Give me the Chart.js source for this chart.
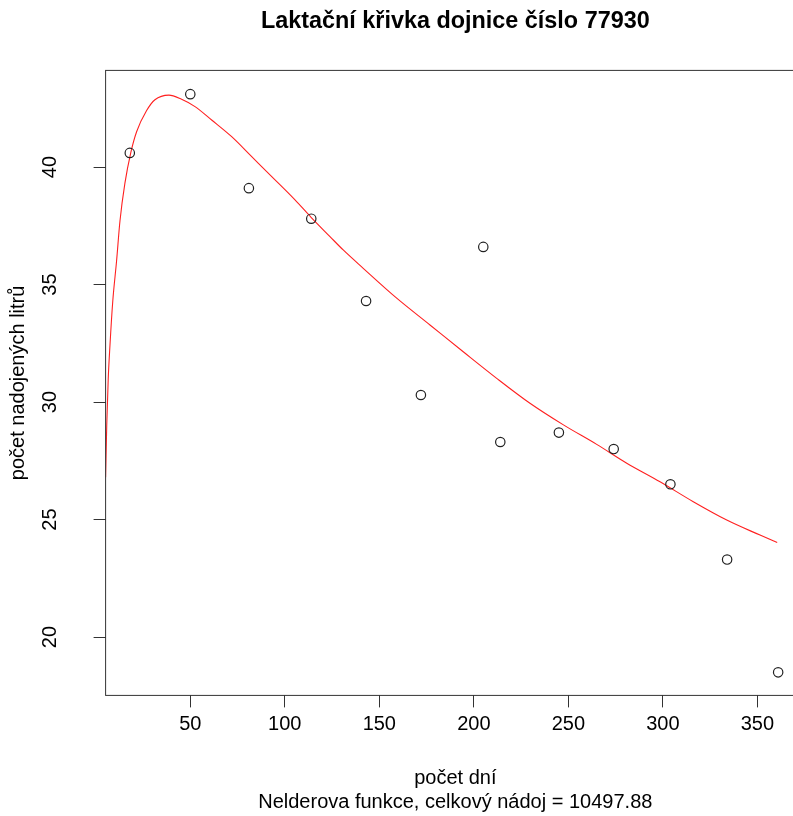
<!DOCTYPE html>
<html>
<head>
<meta charset="utf-8">
<script src="https://cdn.jsdelivr.net/npm/chart.js@4.4.1/dist/chart.umd.min.js"></script>
<style>
  html, body { margin: 0; padding: 0; background: #fff; overflow: hidden; }
  #wrap { width: 820px; height: 816px; }
</style>
</head>
<body>
<div id="wrap"><canvas id="graph" width="820" height="816"></canvas></div>
<script>
// measured milk yield (days in milk -> litres)
const days = [18, 50, 81, 114, 143, 172, 205, 214, 245, 274, 304, 334, 361];
const litres = [40.6, 43.1, 39.1, 37.8, 34.3, 30.3, 36.6, 28.3, 28.7, 28.0, 26.5, 23.3, 18.5];

// fitted curve
const curveDays = [5.2, 5.8, 6.6, 7.5, 9, 11, 12.8, 15.4, 18.5, 21.6, 26.9, 31.3, 38.7, 45.4, 52.5, 61.3, 71.9, 82.5,
  93.1, 105.4, 113.9, 123.9, 130.9, 141.5, 159.2, 176.8, 194.4, 212.1, 229.7, 247.4, 265, 280.9, 298.5, 316.1,
  333.8, 351.4, 360.5];
const curveLitres = [26.8, 29.0, 31.0, 32.4, 34.3, 36.0, 37.7, 39.3, 40.6, 41.5, 42.4, 42.86, 43.06, 42.88, 42.57,
  42.0, 41.29, 40.44, 39.59, 38.6, 37.86, 37.04, 36.47, 35.69, 34.42, 33.28, 32.14, 31.01, 29.95, 29.03, 28.2,
  27.4, 26.61, 25.76, 24.98, 24.34, 24.02];

const xTicks = [50, 100, 150, 200, 250, 300, 350];
const yTicks = [20, 25, 30, 35, 40];

const titleText = 'Laktační křivka dojnice číslo 77930';
const xLabel = 'počet dní';
const subText = 'Nelderova funkce, celkový nádoj = 10497.88';
const yLabel = 'počet nadojených litrů';

const FONT = '"Liberation Sans", Arial, sans-serif';

// box, y tick labels and all the titles, R style
const rStyle = {
  id: 'rStyle',
  afterDraw(chart) {
    const ctx = chart.ctx;
    const a = chart.chartArea;
    const ys = chart.scales.y;
    const cx = (a.left + a.right) / 2;
    ctx.save();
    ctx.strokeStyle = '#333';
    ctx.lineWidth = 1;
    ctx.strokeRect(a.left, a.top, a.right - a.left, a.bottom - a.top);

    ctx.fillStyle = '#000';
    ctx.textAlign = 'center';
    ctx.textBaseline = 'middle';
    ctx.font = '20px ' + FONT;
    yTicks.forEach(v => {
      ctx.save();
      ctx.translate(50, ys.getPixelForValue(v));
      ctx.rotate(-Math.PI / 2);
      ctx.fillText(String(v), 0, 0);
      ctx.restore();
    });

    ctx.save();
    ctx.translate(18, (a.top + a.bottom) / 2);
    ctx.rotate(-Math.PI / 2);
    ctx.fillText(yLabel, 0, 0);
    ctx.restore();

    ctx.fillText(xLabel, cx, 778);
    ctx.fillText(subText, cx, 802);

    ctx.font = 'bold 23.4px ' + FONT;
    ctx.fillText(titleText, cx, 22);
    ctx.restore();
  }
};

new Chart(document.getElementById('graph').getContext('2d'), {
  type: 'scatter',
  data: {
    datasets: [{
      label: 'nádoj',
      data: days.map((d, i) => ({ x: d, y: litres[i] })),
      pointStyle: 'circle',
      pointRadius: 4.7,
      pointBorderWidth: 1.2,
      pointBackgroundColor: 'rgba(0,0,0,0)',
      pointBorderColor: '#222',
      showLine: false
    }, {
      label: 'křivka',
      data: curveDays.map((d, i) => ({ x: d, y: curveLitres[i] })),
      showLine: true,
      pointRadius: 0,
      borderColor: '#ff2020',
      borderWidth: 1.1,
      cubicInterpolationMode: 'monotone'
    }]
  },
  options: {
    responsive: false,
    animation: false,
    layout: { padding: { left: 0, top: 70.4, right: 15, bottom: 0 } },
    plugins: {
      legend: { display: false },
      tooltip: { enabled: false }
    },
    scales: {
      x: {
        type: 'linear',
        min: 5.2,
        max: 375.2,
        afterBuildTicks: s => { s.ticks = xTicks.map(v => ({ value: v })); },
        afterFit: s => { s.height = 120.6; },
        grid: { drawOnChartArea: false, drawTicks: true, tickLength: 12, color: '#333' },
        border: { display: false },
        ticks: { color: '#000', font: { family: FONT, size: 20 }, padding: 5, maxRotation: 0 }
      },
      y: {
        type: 'linear',
        min: 17.52,
        max: 44.11,
        afterBuildTicks: s => { s.ticks = yTicks.map(v => ({ value: v })); },
        afterFit: s => { s.width = 105.6; },
        grid: { drawOnChartArea: false, drawTicks: true, tickLength: 12, color: '#333' },
        border: { display: false },
        ticks: { display: false }
      }
    }
  },
  plugins: [rStyle]
});
</script>
</body>
</html>
